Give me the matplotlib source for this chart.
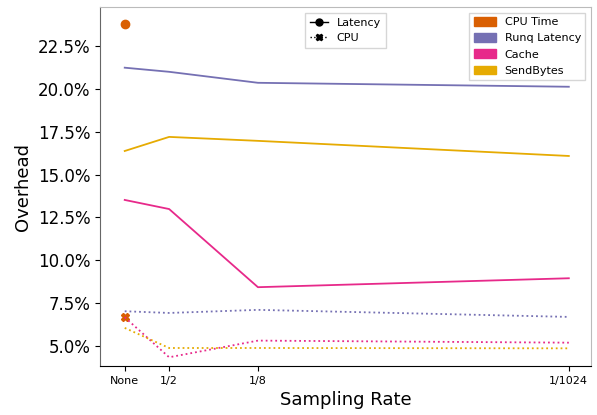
import matplotlib
matplotlib.use("Agg")
import matplotlib.pyplot as plt
from matplotlib.lines import Line2D
from matplotlib.patches import Patch
from matplotlib.ticker import PercentFormatter

x_labels = ["None", "1/2", "1/8", "1/1024"]
x_pos = [0, 1, 3, 10]  # log2 of sampling denominator

cpu_time_latency = [23.78]
cpu_time_cpu = [6.69]

runq_latency = [21.22, 20.98, 20.34, 20.11]
runq_cpu = [7.04, 6.94, 7.12, 6.71]
cache_latency = [13.52, 12.99, 8.44, 8.96]
cache_cpu = [6.69, 4.36, 5.33, 5.21]
send_latency = [16.37, 17.19, 16.96, 16.08]
send_cpu = [6.07, 4.90, 4.90, 4.88]

names = ["CPU Time", "Runq Latency", "Cache", "SendBytes"]
colors = ["#d95f02", "#7570b3", "#e7298a", "#e6ab02"]

fig = plt.figure(figsize=(5.97, 4.15), dpi=100)
ax = fig.add_axes([0.168, 0.118, 0.822, 0.865])

ax.plot(x_pos[:1], cpu_time_latency, "o", color=colors[0], ms=6)
ax.plot(x_pos[:1], cpu_time_cpu, "X", color=colors[0], ms=6)
for lat, cpu, c in [(runq_latency, runq_cpu, colors[1]),
                    (cache_latency, cache_cpu, colors[2]),
                    (send_latency, send_cpu, colors[3])]:
    ax.plot(x_pos, lat, "-", color=c, lw=1.3)
    ax.plot(x_pos, cpu, ":", color=c, lw=1.3)

ax.set_xticks(x_pos)
ax.set_xticklabels(x_labels, fontsize=8)
ax.set_yticks([5, 7.5, 10, 12.5, 15, 17.5, 20, 22.5])
ax.yaxis.set_major_formatter(PercentFormatter(decimals=1))
ax.tick_params(axis="y", labelsize=12)
ax.set_xlim(-0.55, 10.5)
ax.set_ylim(3.85, 24.75)
ax.set_xlabel("Sampling Rate", fontsize=13)
ax.set_ylabel("Overhead", fontsize=13)

for side in ["top", "right"]:
    ax.spines[side].set_color("#bbbbbb")
ax.spines["left"].set_color("#666666")

h1 = [Line2D([], [], color="black", ls="-", marker="o", ms=5, lw=1),
      Line2D([], [], color="black", ls=":", marker="X", ms=5, lw=1)]
leg1 = ax.legend(h1, ["Latency", "CPU"], loc="upper center", bbox_to_anchor=(0.5, 1.0),
                 fontsize=8, handlelength=1.6, fancybox=False, borderpad=0.45,
                 labelspacing=0.45)
ax.add_artist(leg1)
h2 = [Patch(color=c) for c in colors]
ax.legend(h2, names, loc="upper right", fontsize=8, fancybox=False, handlelength=2.0,
          handleheight=0.8, labelspacing=0.55)

fig.savefig("out.png", dpi=100)
